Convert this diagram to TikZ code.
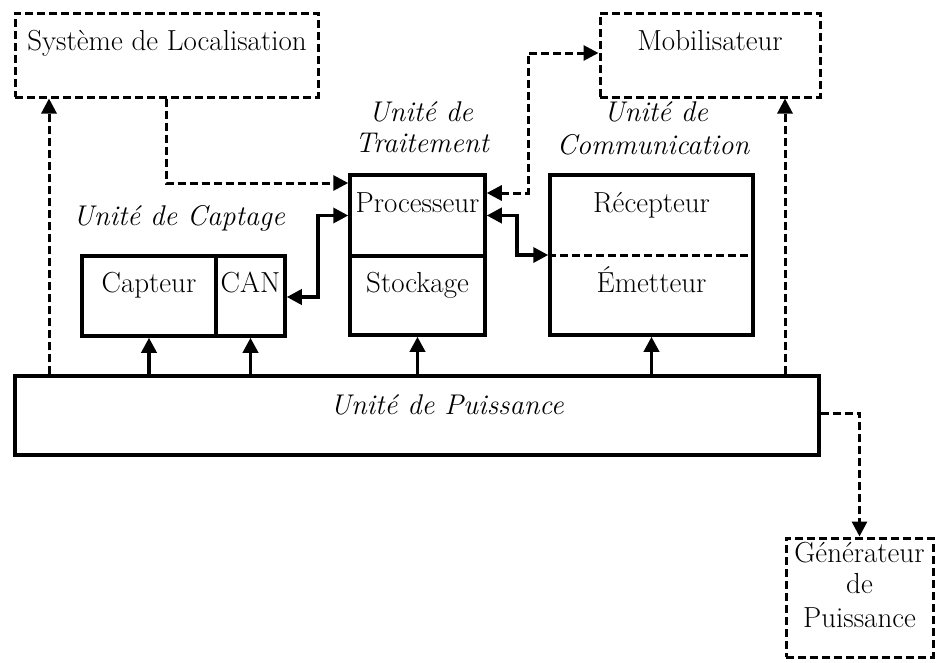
\documentclass[tikz,border=0pt]{standalone}
\usepackage{fontspec}
\usetikzlibrary{arrows.meta,calc}
\begin{document}
\begin{tikzpicture}[x=1pt,y=-1pt,
  font=\fontsize{29}{34}\selectfont,
  >={Triangle[length=15pt,width=15pt]},
  sbox/.style={draw,line width=3.5pt,inner sep=0pt},
  dbox/.style={draw,line width=3pt,inner sep=0pt,dash pattern=on 8pt off 4pt},
  sline/.style={line width=3.5pt},
  dline/.style={line width=3pt,dash pattern=on 8pt off 4pt},
  txt/.style={inner sep=0pt,anchor=base},
  ital/.style={inner sep=0pt,anchor=base,font=\fontsize{28.5}{34}\selectfont\itshape},
]
\useasboundingbox (0,0) rectangle (938,662);

% boxes
\node[dbox,minimum width=303pt,minimum height=84pt] (sys) at (166.5,55) {};
\node[dbox,minimum width=220pt,minimum height=84pt] (mob) at (710,55) {};
\node[sbox,minimum width=135pt,minimum height=81pt] (proc) at (417.5,215.5) {};
\node[sbox,minimum width=135pt,minimum height=79pt] (stock) at (417.5,295.5) {};
\node[sbox,minimum width=134pt,minimum height=80pt] (cap) at (149,296) {};
\node[sbox,minimum width=69pt,minimum height=80pt] (can) at (250.5,296) {};
\node[sbox,minimum width=203pt,minimum height=160pt] (comm) at (651.5,255) {};
\node[sbox,minimum width=804pt,minimum height=79pt] (puis) at (417,415.5) {};
\node[dbox,minimum width=147pt,minimum height=119pt] (gen) at (859.5,597.5) {};
\draw[dline] (comm.west) -- ($(comm.east)+(-5,0)$);

% texts
\node[txt] (tsys) at (167,50) {Système de Localisation};
\node[txt] (tmob) at (710,50) {Mobilisateur};
\node[txt] (tproc) at (417.5,212) {Processeur};
\node[txt] (tstock) at (417.5,292) {Stockage};
\node[txt] (tcap) at (149,292) {Capteur};
\node[txt] (tcan) at (250.5,292) {CAN};
\node[txt] (trec) at (651.5,212) {Récepteur};
\node[txt] (temet) at (651.5,292) {Émetteur};
\node[ital] (lcapt) at (179,225) {Unité de Captage};
\node[ital] (ltr1) at (421,121) {Unité de};
\node[ital] (ltr2) at (422,152) {Traitement};
\node[ital] (lco1) at (656,121) {Unité de};
\node[ital] (lco2) at (653,154) {Communication};
\node[ital] (lpuis) at (447,414) {Unité de Puissance};
\node[txt] (tgen1) at (859.5,562) {Générateur};
\node[txt] (tgen2) at (859.5,593) {de};
\node[txt] (tgen3) at (859.5,627) {Puissance};

% connectors
\draw[dline,->] (puis.north -| 49,0) -- (sys.south -| 49,0);
\draw[dline,->] (sys.south -| 166,0) |- (proc.west |- 0,183);
\draw[sline,<->] (can.east |- 0,297) -- (318,297) |- (proc.west);
\draw[sline,<->] (proc.east) -- (517,215.5) |- (comm.west);
\draw[dline,<->] (proc.east |- 0,193) -- (528,193) |- (mob.west |- 0,53);
\draw[sline,->] (puis.north -| cap.south) -- (cap.south);
\draw[sline,->] (puis.north -| can.south) -- (can.south);
\draw[sline,->] (puis.north -| stock.south) -- (stock.south);
\draw[sline,->] (puis.north -| comm.south) -- (comm.south);
\draw[dline,->] (puis.north -| 785,0) -- (mob.south -| 785,0);
\draw[dline,->] (puis.east |- 0,413) -| (gen.north);
\end{tikzpicture}
\end{document}
